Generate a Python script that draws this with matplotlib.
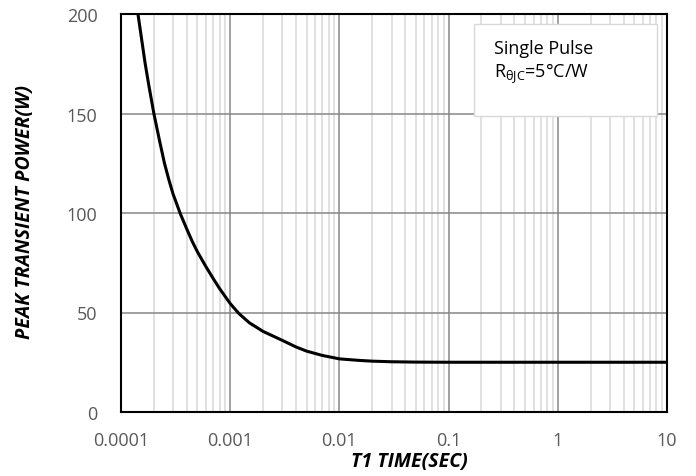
import matplotlib
matplotlib.use("Agg")
import matplotlib.pyplot as plt
from matplotlib.patches import Rectangle
from matplotlib.ticker import LogLocator, NullFormatter

plt.rcParams['font.family'] = ['Open Sans', 'DejaVu Sans']
plt.rcParams['mathtext.default'] = 'regular'

# Data
time_s = [1.43e-4, 1.66e-4, 1.8e-4, 2e-4, 2.25e-4, 2.5e-4, 2.75e-4, 3e-4, 3.5e-4,
          4e-4, 4.5e-4, 5e-4, 6e-4, 7e-4, 8e-4, 1e-3, 1.2e-3, 1.5e-3, 2e-3, 3e-3,
          4e-3, 5e-3, 7e-3, 1e-2, 1.5e-2, 2e-2, 3e-2, 5e-2, 1e-1, 1.0, 10.0]
power_w = [200, 175.5, 164, 150, 136.5, 125, 116.5, 109.5, 99.5,
           92, 85.6, 80.6, 73, 67, 62, 54.5, 49.5, 44.8, 40.5, 36,
           32.7, 30.6, 28.4, 26.7, 25.95, 25.55, 25.25, 25.08, 25, 25, 25]

x_ticks = [1e-4, 1e-3, 1e-2, 1e-1, 1, 10]
x_tick_labels = ["0.0001", "0.001", "0.01", "0.1", "1", "10"]
y_ticks = [0, 50, 100, 150, 200]
y_tick_labels = ["0", "50", "100", "150", "200"]

fig = plt.figure(figsize=(6.96, 4.77), dpi=100)
ax = fig.add_axes([121/696, 1 - 413/477, (667-121)/696, (413-15)/477])

ax.set_xscale('log')
ax.set_xlim(1e-4, 10)
ax.set_ylim(0, 200)

ax.set_xticks(x_ticks)
ax.set_xticklabels(x_tick_labels)
ax.xaxis.set_minor_locator(LogLocator(base=10, subs=range(2, 10)))
ax.xaxis.set_minor_formatter(NullFormatter())
ax.set_yticks(y_ticks)
ax.set_yticklabels(y_tick_labels)

ax.tick_params(axis='both', which='both', length=0, labelsize=13, labelcolor='#595959')
ax.tick_params(axis='x', pad=14)
ax.tick_params(axis='y', pad=17)

ax.grid(True, which='minor', axis='x', color='#d9d9d9', linewidth=1.1, zorder=0)
ax.grid(True, which='major', axis='both', color='#868686', linewidth=1.1, zorder=0)
ax.set_axisbelow(True)

for s in ax.spines.values():
    s.set_color('black')
    s.set_linewidth(1.5)

ax.plot(time_s, power_w, color='black', linewidth=2.2, zorder=3,
        solid_joinstyle='round')

# annotation box
box = Rectangle((0.6465, 0.744), 0.3352, 0.231, transform=ax.transAxes,
                facecolor='white', edgecolor='#d9d9d9', linewidth=1.0, zorder=4)
ax.add_patch(box)
ax.text(0.683, 0.915, "Single Pulse", transform=ax.transAxes, fontsize=13,
        color='black', va='center', ha='left', zorder=5)
ax.text(0.683, 0.852, r"R$_{θJC}$=5°C/W", transform=ax.transAxes, fontsize=13,
        color='black', va='center', ha='left', zorder=5)

fig.text(409/696, 1 - 462/477, "T1 TIME(SEC)", fontsize=14, fontweight='bold',
         fontstyle='italic', ha='center', va='center', color='black')
fig.text(25/696, 1 - 212/477, "PEAK TRANSIENT POWER(W)", fontsize=14, fontweight='bold',
         fontstyle='italic', ha='center', va='center', rotation=90, color='black')

fig.savefig("out.png", dpi=100)
